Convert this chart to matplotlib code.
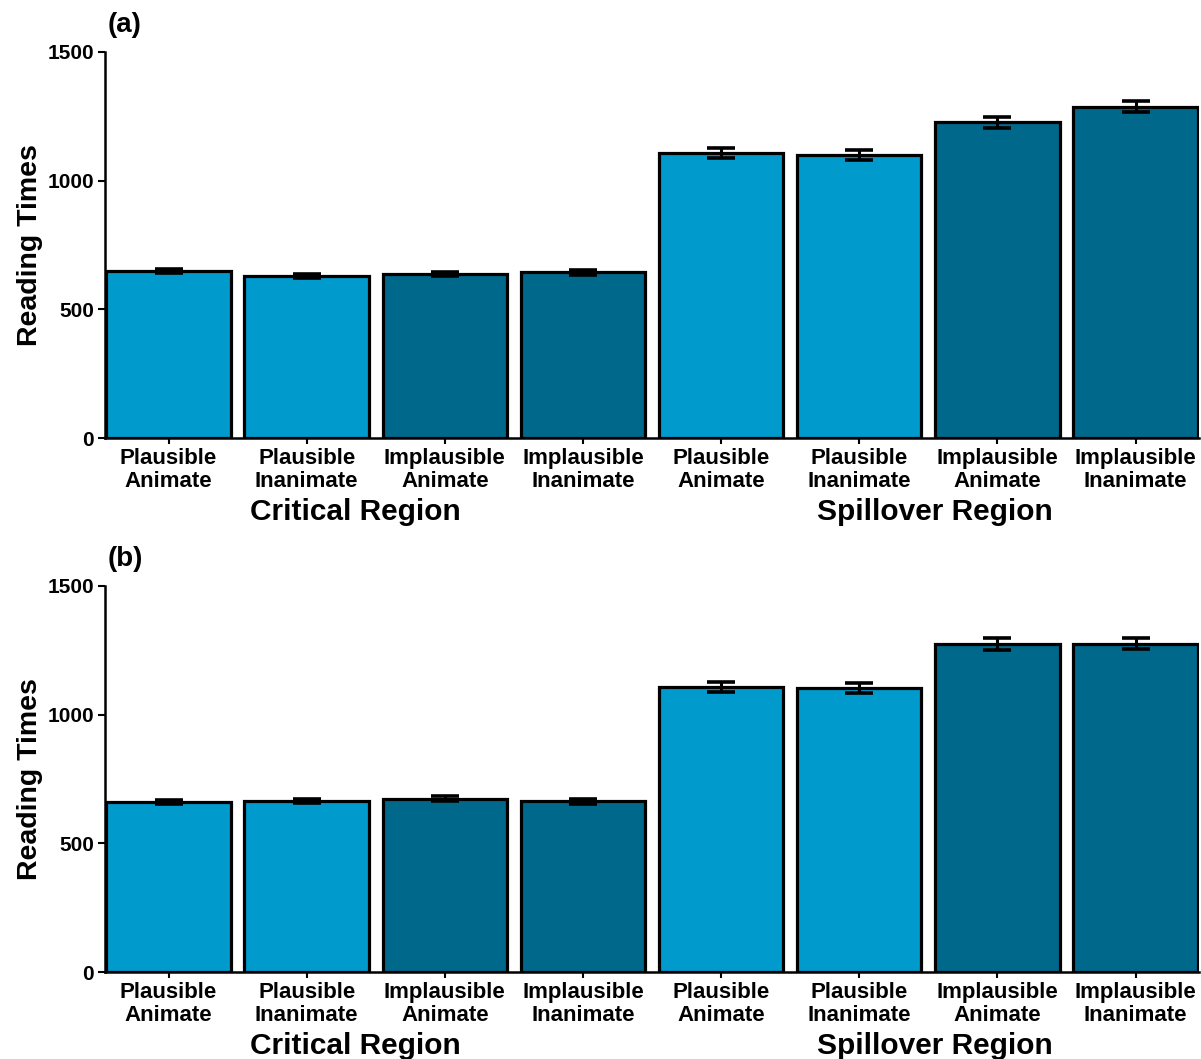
import matplotlib
matplotlib.use("Agg")
import matplotlib.pyplot as plt
import matplotlib.transforms as mtransforms
import numpy as np

plt.rcParams['font.family'] = ['Liberation Sans', 'DejaVu Sans']
plt.rcParams['font.weight'] = 'bold'

conditions = ["Plausible\nAnimate", "Plausible\nInanimate", "Implausible\nAnimate", "Implausible\nInanimate",
              "Plausible\nAnimate", "Plausible\nInanimate", "Implausible\nAnimate", "Implausible\nInanimate"]
regions = ["Critical Region", "Spillover Region"]
light = "#009ACD"
dark = "#00688B"
bar_colors = [light, light, dark, dark, light, light, dark, dark]

# panel (a)
means_a = [649, 630, 636, 644, 1108, 1100, 1226, 1286]
se_a = [9, 8, 8, 9, 19, 19, 21, 21]
# panel (b)
means_b = [661, 665, 674, 663, 1108, 1104, 1275, 1275]
se_b = [9, 9, 10, 9, 19, 19, 23, 21]

fig = plt.figure(figsize=(12.01, 10.59), dpi=100)
ax_a = fig.add_axes([0.0874, 0.5861, 0.911, 0.3651])
ax_b = fig.add_axes([0.0874, 0.0819, 0.911, 0.3651])


def draw_panel(ax, means, se, tag):
    x = np.arange(1, len(means) + 1)
    ax.bar(x, means, width=0.9, color=bar_colors, edgecolor="black", linewidth=2.3, zorder=2)
    ax.errorbar(x, means, yerr=se, fmt="none", ecolor="black", elinewidth=2.2,
                capsize=10, capthick=2.6, zorder=3)
    ax.set_xlim(0.54, 8.46)
    ax.set_ylim(0, 1500)
    ax.set_yticks([0, 500, 1000, 1500])
    ax.set_xticks(x)
    ax.set_xticklabels(conditions, fontsize=16, fontweight="bold", linespacing=1.12)
    ax.tick_params(axis="y", labelsize=15, length=5, width=1.5, pad=3)
    ax.tick_params(axis="x", length=4, width=1.5, pad=3)
    for s in ["top", "right"]:
        ax.spines[s].set_visible(False)
    for s in ["left", "bottom"]:
        ax.spines[s].set_linewidth(1.8)
    ax.set_ylabel("Reading Times", fontsize=20.5, fontweight="bold", labelpad=3)
    trans = mtransforms.blended_transform_factory(ax.transData, ax.transAxes)
    ax.text(2.35, -0.19, regions[0], transform=trans, ha="center", va="center",
            fontsize=21.5, fontweight="bold")
    ax.text(6.55, -0.19, regions[1], transform=trans, ha="center", va="center",
            fontsize=21.5, fontweight="bold")
    ax.text(0.002, 1.069, tag, transform=ax.transAxes, ha="left", va="center",
            fontsize=20, fontweight="bold")


draw_panel(ax_a, means_a, se_a, "(a)")
draw_panel(ax_b, means_b, se_b, "(b)")

fig.savefig("out.png", dpi=100)
